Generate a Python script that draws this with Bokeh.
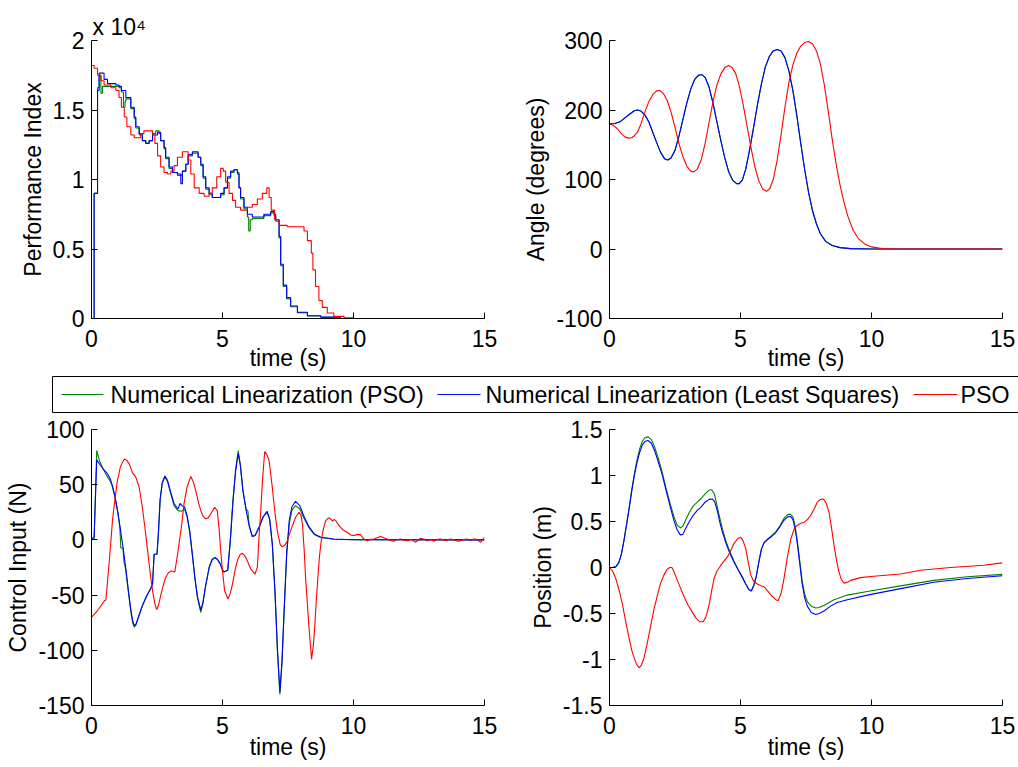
from bokeh.plotting import figure
from bokeh.layouts import column, row
from bokeh.models import Range1d, FixedTicker, CustomJSTickFormatter, Title
from bokeh.core.properties import value
from bokeh.embed import file_html
from bokeh.resources import INLINE

# ---------------- data ----------------
# Performance index (stairs)
pi_t_green = [0, 0.1, 0.23, 0.29, 0.36, 0.42, 0.48, 0.61, 0.93, 1.05, 1.14, 1.22, 1.28, 1.31, 1.5, 1.63, 1.69, 1.82, 1.94, 2.07,
              2.2, 2.33, 2.45, 2.58, 2.64, 2.77, 2.83, 2.96, 3.09, 3.28, 3.41, 3.47, 3.6, 3.69, 3.85, 3.98, 4.07, 4.17, 4.26, 4.36,
              4.49, 4.61, 4.8, 4.93, 5.06, 5.19, 5.31, 5.44, 5.57, 5.63, 5.69, 5.82, 5.95, 6.0, 6.06, 6.14, 6.33, 6.58, 6.84, 6.97,
              7.03, 7.16, 7.22, 7.32, 7.45, 7.6, 7.86, 8.24, 8.75, 9.5, 15]
pi_green = [0, 9000, 16600, 17500, 16200, 16700, 16700, 16700, 16700, 16600, 16300, 15200, 15600, 15800, 15100, 14400, 13700, 13200, 12800, 12600,
            12800, 13300, 13500, 13300, 12800, 12200, 11500, 10800, 10500, 10300, 10300, 10600, 11100, 11700, 11900, 11900, 11600, 11000, 10100, 9300,
            8900, 8700, 8700, 8900, 9400, 10100, 10500, 10700, 10500, 9400, 8600, 7900, 7300, 6300, 7100, 7200, 7200, 7400, 7600, 7400,
            7000, 5800, 3800, 2300, 1400, 850, 420, 180, 90, 0, 0]
pi_t_blue = [0, 0.1, 0.23, 0.29, 0.48, 0.61, 0.93, 1.05, 1.14, 1.31, 1.5, 1.63, 1.69, 1.82, 1.94, 2.07, 2.2, 2.33, 2.52, 2.64,
             2.77, 2.83, 2.96, 3.09, 3.28, 3.41, 3.47, 3.6, 3.69, 3.85, 3.98, 4.07, 4.17, 4.26, 4.36, 4.49, 4.61, 4.8, 4.93, 5.06,
             5.19, 5.31, 5.44, 5.57, 5.63, 5.69, 5.82, 5.95, 6.14, 6.33, 6.58, 6.84, 6.97, 7.03, 7.16, 7.22, 7.32, 7.45, 7.6, 7.86,
             8.24, 8.75, 9.5, 15]
pi_blue = [0, 9000, 16400, 17650, 17200, 16900, 16800, 16700, 16400, 15900, 15200, 14500, 13800, 13300, 12800, 12600, 12800, 13200, 13400, 12800,
           12300, 11600, 10900, 10500, 10400, 9700, 10600, 11100, 11800, 12000, 12000, 11600, 11100, 10200, 9400, 9000, 8700, 8700, 9000, 9400,
           10200, 10600, 10700, 10400, 9400, 8700, 8000, 7500, 7300, 7300, 7500, 7700, 7500, 7100, 5900, 3900, 2400, 1500, 900, 450,
           200, 100, 0, 0]
pi_t_red = [0, 0.1, 0.23, 0.36, 0.48, 0.74, 0.93, 1.05, 1.14, 1.25, 1.35, 1.5, 1.63, 1.78, 1.88, 2.0, 2.2, 2.33, 2.42, 2.52,
            2.64, 2.77, 2.9, 3.03, 3.15, 3.28, 3.47, 3.6, 3.69, 3.79, 3.92, 4.11, 4.3, 4.49, 4.61, 4.78, 4.93, 5.03, 5.12, 5.25,
            5.38, 5.5, 5.69, 5.95, 6.14, 6.33, 6.52, 6.69, 6.78, 6.86, 6.99, 7.16, 7.47, 7.86, 8.11, 8.24, 8.39, 8.45, 8.55, 8.68,
            8.81, 9.0, 9.25, 9.64, 10.0, 15]
pi_red = [18200, 18000, 17500, 17100, 16800, 16600, 16400, 15900, 15200, 14500, 13800, 13200, 13000, 13000, 13300, 13500, 13500, 13300, 12600, 11700,
          10900, 10500, 10400, 10600, 11000, 11600, 12000, 12000, 11400, 10400, 9400, 9000, 8800, 9000, 9400, 10200, 10800, 10600, 9800, 9000,
          8500, 8000, 7800, 8000, 8200, 8600, 9000, 9400, 8700, 7800, 7100, 6700, 6600, 6600, 6300, 5600, 4700, 3500, 2300, 1300,
          800, 400, 150, 50, 0, 0]

# Angle (degrees)
ang_t_green = [0, 0.2, 0.4, 0.6, 0.8, 0.95, 1.07, 1.2, 1.35, 1.5, 1.65, 1.8, 1.95, 2.1, 2.22, 2.35, 2.5, 2.65, 2.8, 2.95,
               3.1, 3.25, 3.4, 3.52, 3.65, 3.8, 3.95, 4.1, 4.25, 4.4, 4.55, 4.7, 4.85, 4.95, 5.07, 5.2, 5.35, 5.5, 5.65, 5.8,
               5.95, 6.1, 6.25, 6.4, 6.55, 6.7, 6.85, 7.0, 7.15, 7.3, 7.45, 7.6, 7.75, 7.9, 8.05, 8.25, 8.5, 8.8, 9.2, 10, 15]
ang_green = [180, 180.5, 183, 189, 195, 199, 200, 198.5, 193, 183, 168, 153, 139, 130, 128, 131, 142, 162, 186, 210,
             230, 244, 250, 251, 247, 233, 210, 183, 156, 131, 111, 99, 94, 94, 99, 115, 143, 175, 208, 238,
             262, 277, 285, 287, 285, 275, 256, 228, 192, 152, 114, 81, 55, 36, 22, 11, 5, 2, 0.5, 0, 0]
ang_t_blue = [0, 0.2, 0.4, 0.6, 0.8, 0.95, 1.07, 1.2, 1.35, 1.5, 1.65, 1.8, 1.95, 2.1, 2.22, 2.35, 2.5, 2.65, 2.8, 2.95,
              3.1, 3.25, 3.4, 3.52, 3.65, 3.8, 3.95, 4.1, 4.25, 4.4, 4.55, 4.7, 4.85, 4.95, 5.07, 5.2, 5.35, 5.5, 5.65, 5.8,
              5.95, 6.1, 6.25, 6.4, 6.55, 6.7, 6.85, 7.0, 7.15, 7.3, 7.45, 7.6, 7.75, 7.9, 8.05, 8.25, 8.5, 8.8, 9.2, 10, 15]
ang_blue = [180, 180.5, 183, 189, 195, 199, 200, 198.5, 193, 183, 168, 153, 139, 130, 128, 131, 142, 162, 186, 210,
            230, 244, 250, 251, 247, 233, 210, 183, 156, 131, 111, 99, 94, 94, 99, 115, 143, 175, 208, 238,
            262, 277, 285, 287, 285, 275, 256, 228, 192, 152, 114, 81, 55, 36, 22, 11, 5, 2, 0.5, 0, 0]
ang_t_red = [0, 0.15, 0.3, 0.45, 0.6, 0.75, 0.85, 0.95, 1.07, 1.2, 1.35, 1.5, 1.65, 1.8, 1.92, 2.05, 2.2, 2.35, 2.5, 2.65,
             2.8, 2.95, 3.1, 3.22, 3.35, 3.5, 3.65, 3.8, 3.95, 4.1, 4.25, 4.4, 4.55, 4.68, 4.82, 4.95, 5.1, 5.25, 5.4, 5.55,
             5.7, 5.85, 6.0, 6.12, 6.25, 6.4, 6.55, 6.7, 6.85, 7.0, 7.15, 7.3, 7.45, 7.6, 7.75, 7.9, 8.05, 8.2, 8.35, 8.5,
             8.65, 8.8, 8.95, 9.1, 9.3, 9.5, 9.75, 10.0, 10.4, 11, 15]
ang_red = [180, 178, 173, 166, 161, 159.5, 160, 163, 168, 180, 197, 212, 222, 227.5, 228, 224, 214, 197, 175, 152,
           133, 119, 112, 111, 115, 128, 152, 182, 212, 236, 252, 261, 264, 261, 252, 235, 208, 177, 146, 118,
           98, 86, 83, 87, 100, 128, 165, 205, 240, 265, 282, 292, 297, 298.5, 295, 285, 266, 236, 198, 158,
           122, 92, 67, 47, 27, 15, 7, 3, 0.5, 0, 0]

# Control input (N)
u_t_green = [0, 0.1, 0.2, 0.3, 0.45, 0.61, 0.72, 0.8, 0.9, 1.0, 1.08, 1.12, 1.2, 1.24, 1.3, 1.4, 1.5, 1.57, 1.63, 1.7,
             1.8, 1.94, 2.1, 2.26, 2.33, 2.39, 2.5, 2.55, 2.62, 2.7, 2.8, 2.9, 3.0, 3.15, 3.3, 3.45, 3.55, 3.65, 3.75, 3.85,
             3.95, 4.05, 4.17, 4.25, 4.35, 4.49, 4.6, 4.7, 4.8, 4.9, 5.0, 5.05, 5.2, 5.3, 5.4, 5.5, 5.6, 5.68, 5.78, 5.9,
             5.97, 6.02, 6.14, 6.25, 6.4, 6.55, 6.7, 6.8, 6.9, 7.0, 7.1, 7.19, 7.27, 7.35, 7.45, 7.55, 7.65, 7.79, 7.95, 8.1,
             8.3, 8.5, 8.75, 9.25, 10, 15]
u_green = [0, 0.8, 81, 72, 64, 57, 53, 48, 38, 25, 12, -7, -7.6, -20, -26, -46, -65, -75, -79, -77,
           -70, -60, -51, -44, -40, -13, -13, 4, 36, 51, 57, 53, 44, 31, 26.5, 26, 28, 21, 7, -14,
           -36, -53, -65.6, -58, -43, -25, -18, -16, -17.5, -21, -27, -29, -27.5, 0, 36, 64, 81, 68, 44, 28,
           26, 12, 3, 4, 11.5, 20.5, 25, 18.5, -4, -46, -102, -140, -112, -66, -13, 15, 27, 31, 28, 20,
           11, 5, 2.2, 0.6, 0.1, 0]
u_t_blue = [0, 0.1, 0.2, 0.3, 0.45, 0.61, 0.72, 0.8, 0.9, 1.0, 1.1, 1.2, 1.3, 1.4, 1.5, 1.57, 1.63, 1.7, 1.8, 1.94,
            2.1, 2.26, 2.33, 2.39, 2.5, 2.55, 2.62, 2.7, 2.8, 2.9, 3.0, 3.15, 3.3, 3.38, 3.45, 3.55, 3.65, 3.75, 3.85, 3.95,
            4.05, 4.17, 4.25, 4.35, 4.49, 4.6, 4.7, 4.8, 4.9, 5.0, 5.05, 5.2, 5.3, 5.4, 5.5, 5.6, 5.68, 5.78, 5.9, 6.0,
            6.14, 6.25, 6.4, 6.55, 6.7, 6.8, 6.9, 7.0, 7.1, 7.19, 7.27, 7.35, 7.45, 7.55, 7.65, 7.79, 7.95, 8.1, 8.3, 8.5,
            8.75, 9.25, 10, 15]
u_blue = [0.8, 2.4, 72.5, 69, 64, 60, 55, 49, 39, 26, 10, -6, -24, -44, -63, -73, -77.7, -76, -69, -59.6,
          -51, -44, -40, -13, -12.8, 5, 37, 52, 58, 54, 45, 33, 28, 33, 31, 30, 22, 8, -13, -35,
          -52, -63.5, -57, -42, -25, -18, -16, -17.5, -21, -27, -29, -27.5, 0, 35, 62, 78, 68, 45, 27, 15,
          3, 4.5, 12, 21, 26, 19, -3, -45, -100, -138, -110, -65, -12, 18, 30, 35, 31, 22, 12, 5.4,
          2.4, 0.8, 0.2, 0]
u_t_red = [0, 0.12, 0.23, 0.36, 0.5, 0.55, 0.62, 0.67, 0.75, 0.8, 0.9, 0.99, 1.1, 1.25, 1.35, 1.44, 1.56, 1.69, 1.82, 1.94,
           2.05, 2.14, 2.25, 2.33, 2.42, 2.49, 2.56, 2.64, 2.75, 2.83, 2.93, 3.03, 3.18, 3.26, 3.34, 3.45, 3.53, 3.65, 3.79, 3.88,
           3.98, 4.08, 4.17, 4.27, 4.36, 4.45, 4.55, 4.7, 4.8, 4.87, 4.93, 5.0, 5.08, 5.21, 5.3, 5.38, 5.5, 5.59, 5.68, 5.76,
           5.84, 5.92, 6.0, 6.08, 6.24, 6.33, 6.4, 6.46, 6.53, 6.61, 6.7, 6.78, 6.9, 7.0, 7.09, 7.2, 7.28, 7.37, 7.45, 7.6,
           7.79, 7.92, 8.0, 8.05, 8.12, 8.17, 8.24, 8.3, 8.4, 8.47, 8.52, 8.58, 8.64, 8.7, 8.77, 8.85, 8.94, 9.05, 9.13, 9.2,
           9.26, 9.32, 9.42, 9.51, 9.6, 9.76, 9.9, 10.02, 10.15, 10.27, 10.35, 10.4, 10.52, 10.65, 10.78, 10.9, 11.03, 11.15, 11.29, 11.4,
           11.54, 11.65, 11.8, 11.92, 12.05, 12.2, 12.37, 12.45, 12.56, 12.7, 12.81, 12.95, 13.07, 13.2, 13.32, 13.5, 13.7, 13.85, 14.02, 14.2,
           14.34, 14.45, 14.59, 14.7, 14.85, 14.93, 15]
u_red = [-70, -67, -64, -59.6, -55, -54.5, -35, -21.8, 2, 17.5, 38, 53.7, 66, 73.4, 72, 68.9, 61, 56.8, 47.7, 29.6,
         9, -9.7, -32, -46, -58, -63.2, -59, -50.5, -40, -34, -30, -28, -29, -17, -3.7, 15, 32.6, 48, 57.4, 53,
         44.7, 34, 26.5, 21, 19, 20, 23.5, 29.6, 26.5, 10, -9.7, -28, -46, -53.6, -48, -40, -25, -17.3, -13, -12.2,
         -14, -17.3, -22, -26.4, -31, -24.8, 5, 26.5, 55, 80, 77, 71.6, 47.7, 25, 8.4, -4, -6.3, -5, -2.2, 8.4,
         20.5, 25, 22, 14.4, -10, -34, -58, -79, -108, -95, -79, -55, -34, -15, -0.7, 10, 17.5, 20, 19, 17,
         18.5, 17.5, 14, 11.4, 9, 6.9, 4.5, 3.9, 5, 4.8, 2, 0.8, -0.7, 0.5, 0.8, 2, 3, 2, 0.8, -0.5,
         -1.3, 0.2, 0.8, -0.3, -0.7, 0.5, -2.2, -0.5, 1.5, 0.5, -0.7, 0.3, -1.3, 0.5, 0.8, -0.5, 0.8, -0.2, -1.3, 0.3,
         0.8, -0.3, 0.8, 0.5, -2.2, 0, 2.4]

# Position (m)
x_t_green = [0, 0.15, 0.25, 0.35, 0.45, 0.55, 0.65, 0.75, 0.85, 0.95, 1.05, 1.15, 1.25, 1.35, 1.47, 1.6, 1.72, 1.85, 2.0, 2.15,
             2.3, 2.45, 2.58, 2.7, 2.8, 2.9, 3.05, 3.2, 3.35, 3.5, 3.65, 3.8, 3.9, 4.0, 4.1, 4.2, 4.3, 4.45, 4.6, 4.75,
             4.9, 5.05, 5.2, 5.32, 5.41, 5.5, 5.6, 5.7, 5.8, 5.9, 6.05, 6.2, 6.35, 6.5, 6.65, 6.8, 6.9, 7.0, 7.07, 7.15,
             7.25, 7.35, 7.45, 7.55, 7.7, 7.87, 8.0, 8.2, 8.57, 9.08, 9.84, 11.11, 12.38, 13.65, 15]
x_green = [0, 0.002, 0.01, 0.05, 0.14, 0.29, 0.47, 0.65, 0.85, 1.02, 1.17, 1.29, 1.37, 1.41, 1.42, 1.39, 1.31, 1.2, 1.05, 0.87,
           0.71, 0.56, 0.46, 0.43, 0.45, 0.51, 0.6, 0.67, 0.71, 0.75, 0.8, 0.84, 0.845, 0.8, 0.68, 0.55, 0.43, 0.28, 0.17, 0.07,
           -0.02, -0.1, -0.18, -0.24, -0.255, -0.2, -0.1, 0.06, 0.2, 0.27, 0.31, 0.35, 0.39, 0.45, 0.53, 0.575, 0.58, 0.55, 0.47, 0.33,
           0.1, -0.14, -0.29, -0.37, -0.42, -0.44, -0.435, -0.41, -0.35, -0.3, -0.26, -0.2, -0.14, -0.1, -0.075]
x_t_blue = [0, 0.15, 0.25, 0.35, 0.45, 0.55, 0.65, 0.75, 0.85, 0.95, 1.05, 1.15, 1.25, 1.35, 1.47, 1.6, 1.72, 1.85, 2.0, 2.15,
            2.3, 2.45, 2.58, 2.7, 2.8, 2.9, 3.05, 3.2, 3.35, 3.5, 3.65, 3.8, 3.93, 4.02, 4.12, 4.22, 4.31, 4.45, 4.6, 4.75,
            4.9, 5.05, 5.2, 5.32, 5.41, 5.5, 5.6, 5.7, 5.8, 5.9, 6.05, 6.2, 6.35, 6.5, 6.65, 6.8, 6.92, 7.0, 7.07, 7.15,
            7.25, 7.35, 7.45, 7.55, 7.7, 7.87, 8.0, 8.2, 8.44, 8.69, 9.08, 9.84, 11.11, 12.38, 13.65, 15]
x_blue = [0, 0.002, 0.01, 0.05, 0.14, 0.29, 0.46, 0.64, 0.83, 1.0, 1.14, 1.25, 1.33, 1.37, 1.38, 1.35, 1.27, 1.16, 1.02, 0.85,
          0.68, 0.52, 0.41, 0.355, 0.36, 0.42, 0.5, 0.57, 0.62, 0.66, 0.71, 0.74, 0.745, 0.71, 0.61, 0.48, 0.385, 0.26, 0.15, 0.06,
          -0.02, -0.09, -0.18, -0.24, -0.255, -0.2, -0.1, 0.06, 0.2, 0.27, 0.31, 0.34, 0.38, 0.44, 0.51, 0.55, 0.555, 0.52, 0.44, 0.3,
          0.07, -0.17, -0.33, -0.42, -0.49, -0.51, -0.5, -0.47, -0.42, -0.38, -0.35, -0.3, -0.23, -0.16, -0.12, -0.09]
x_t_red = [0, 0.12, 0.24, 0.37, 0.5, 0.62, 0.75, 0.85, 0.94, 1.03, 1.13, 1.22, 1.32, 1.45, 1.58, 1.7, 1.83, 1.95, 2.08, 2.2,
           2.3, 2.38, 2.47, 2.59, 2.72, 2.85, 3.0, 3.15, 3.3, 3.45, 3.57, 3.66, 3.74, 3.82, 3.9, 3.99, 4.1, 4.25, 4.4, 4.5,
           4.62, 4.75, 4.88, 5.0, 5.1, 5.2, 5.3, 5.39, 5.5, 5.64, 5.8, 5.9, 6.05, 6.2, 6.35, 6.44, 6.55, 6.66, 6.78, 6.92,
           7.05, 7.17, 7.3, 7.42, 7.55, 7.68, 7.8, 7.93, 8.05, 8.16, 8.27, 8.38, 8.48, 8.57, 8.67, 8.76, 8.85, 8.95, 9.08, 9.2,
           9.58, 10.09, 11.11, 11.87, 13.02, 14.29, 15]
x_red = [0, -0.04, -0.12, -0.25, -0.41, -0.59, -0.77, -0.9, -0.98, -1.05, -1.09, -1.06, -0.98, -0.81, -0.62, -0.45, -0.3, -0.17, -0.08, -0.02,
         0, 0, -0.05, -0.14, -0.23, -0.32, -0.41, -0.48, -0.55, -0.59, -0.59, -0.55, -0.48, -0.38, -0.25, -0.12, -0.04, 0.025, 0.08, 0.115,
         0.18, 0.26, 0.31, 0.33, 0.29, 0.205, 0.05, -0.08, -0.15, -0.18, -0.2, -0.21, -0.26, -0.31, -0.35, -0.36, -0.28, -0.12, 0.1, 0.31,
         0.42, 0.46, 0.48, 0.49, 0.52, 0.565, 0.63, 0.71, 0.74, 0.745, 0.7, 0.6, 0.42, 0.24, 0.07, -0.05, -0.13, -0.17, -0.16, -0.14,
         -0.11, -0.095, -0.07, -0.03, 0.0, 0.025, 0.05]

x_ticks = [0, 5, 10, 15]
pi_ticks = [0, 5000, 10000, 15000, 20000]
ang_ticks = [-100, 0, 100, 200, 300]
u_ticks = [-150, -100, -50, 0, 50, 100]
pos_ticks = [-1.5, -1, -0.5, 0, 0.5, 1, 1.5]

series_labels = ["Numerical Linearization (PSO)", "Numerical Linearization (Least Squares)", "PSO"]

# ---------------- styling ----------------
FONT = "Liberation Sans"
FS = "23px"
GREEN, BLUE, RED = "#008000", "#0000FF", "#FF0000"
series_colors = [GREEN, BLUE, RED]
LW = 1.1


def make_axes(width, height, mbl, mbr, mbt, mbb, yr, yticks, ylabel, tick_so, lab_so,
              fmt="return tick.toString();"):
    p = figure(width=width, height=height, output_backend="svg", toolbar_location=None,
               x_range=Range1d(0, 15), y_range=Range1d(*yr),
               min_border_left=mbl, min_border_right=mbr, min_border_top=mbt, min_border_bottom=mbb)
    p.outline_line_color = None
    p.grid.visible = False
    p.background_fill_color = "white"
    p.border_fill_color = "white"
    p.xaxis.ticker = FixedTicker(ticks=x_ticks)
    p.yaxis.ticker = FixedTicker(ticks=yticks)
    p.xaxis.formatter = CustomJSTickFormatter(code="return tick.toString();")
    p.yaxis.formatter = CustomJSTickFormatter(code=fmt)
    for ax in (p.xaxis[0], p.yaxis[0]):
        ax.major_tick_in = 6
        ax.major_tick_out = 0
        ax.minor_tick_in = 0
        ax.minor_tick_out = 0
        ax.axis_line_color = "black"
        ax.axis_line_width = 1
        ax.major_tick_line_color = "black"
        ax.major_label_text_font = FONT
        ax.major_label_text_font_size = FS
        ax.major_label_text_color = "black"
        ax.axis_label_text_font = FONT
        ax.axis_label_text_font_size = FS
        ax.axis_label_text_font_style = "normal"
        ax.axis_label_text_color = "black"
    p.xaxis.axis_label = "time (s)"
    p.yaxis.axis_label = ylabel
    p.yaxis.major_label_standoff = 7
    p.yaxis.axis_label_standoff = 4
    p.xaxis.major_label_standoff = tick_so
    p.xaxis.axis_label_standoff = lab_so
    return p


# top-left: performance index
p1 = make_axes(509, 375, 91, 25, 40, 57, (0, 20000), pi_ticks, "Performance Index", 11, -5,
               fmt="return (tick/10000).toString();")
p1.title = Title(text="x 10\u2074", align="left", offset=1, standoff=2,
                 text_font=FONT, text_font_size=FS, text_font_style="normal", text_color="black")
p1.step(pi_t_green, pi_green, mode="after", line_color=GREEN, line_width=LW)
p1.step(pi_t_blue, pi_blue, mode="after", line_color=BLUE, line_width=LW)
p1.step(pi_t_red, pi_red, mode="after", line_color=RED, line_width=LW)

# top-right: angle
p2 = make_axes(509, 375, 100, 16, 40, 57, (-100, 300), ang_ticks, "Angle (degrees)", 11, -5)
p2.line(ang_t_green, ang_green, line_color=GREEN, line_width=LW)
p2.line(ang_t_blue, ang_blue, line_color=BLUE, line_width=LW)
p2.line(ang_t_red, ang_red, line_color=RED, line_width=LW)

# legend strip (pixel-mapped figure: 1 unit = 1 px)
leg = figure(width=1018, height=40, output_backend="svg", toolbar_location=None,
             x_range=Range1d(0, 1018), y_range=Range1d(0, 40),
             x_axis_location=None, y_axis_location=None,
             min_border_left=0, min_border_right=0, min_border_top=0, min_border_bottom=0)
leg.outline_line_color = None
leg.grid.visible = False
leg.quad(left=[52], right=[1040], bottom=[3], top=[39], fill_color="white",
         line_color="black", line_width=1)
leg_glyph_x0 = [61, 437, 913]
leg_glyph_x1 = [103, 480, 957]
leg_text_x = [110, 485, 960]
leg.segment(x0=leg_glyph_x0, x1=leg_glyph_x1, y0=[21] * 3, y1=[21] * 3,
            line_color=series_colors, line_width=LW)
leg.text(x=leg_text_x, y=[21] * 3, text=series_labels, text_font=value(FONT),
         text_font_size=value("23.2px"), text_baseline="middle", text_align="left",
         text_color="black")

# bottom-left: control input
p3 = make_axes(509, 351, 91, 25, 14, 61, (-150, 100), u_ticks, "Control Input (N)", 11, -3)
p3.line(u_t_green, u_green, line_color=GREEN, line_width=LW)
p3.line(u_t_blue, u_blue, line_color=BLUE, line_width=LW)
p3.line(u_t_red, u_red, line_color=RED, line_width=LW)

# bottom-right: position
p4 = make_axes(509, 351, 100, 16, 14, 61, (-1.5, 1.5), pos_ticks, "Position (m)", 11, -3)
p4.line(x_t_green, x_green, line_color=GREEN, line_width=LW)
p4.line(x_t_blue, x_blue, line_color=BLUE, line_width=LW)
p4.line(x_t_red, x_red, line_color=RED, line_width=LW)

layout = column(row(p1, p2), leg, row(p3, p4))
open("out.html", "w").write(file_html(layout, INLINE))
